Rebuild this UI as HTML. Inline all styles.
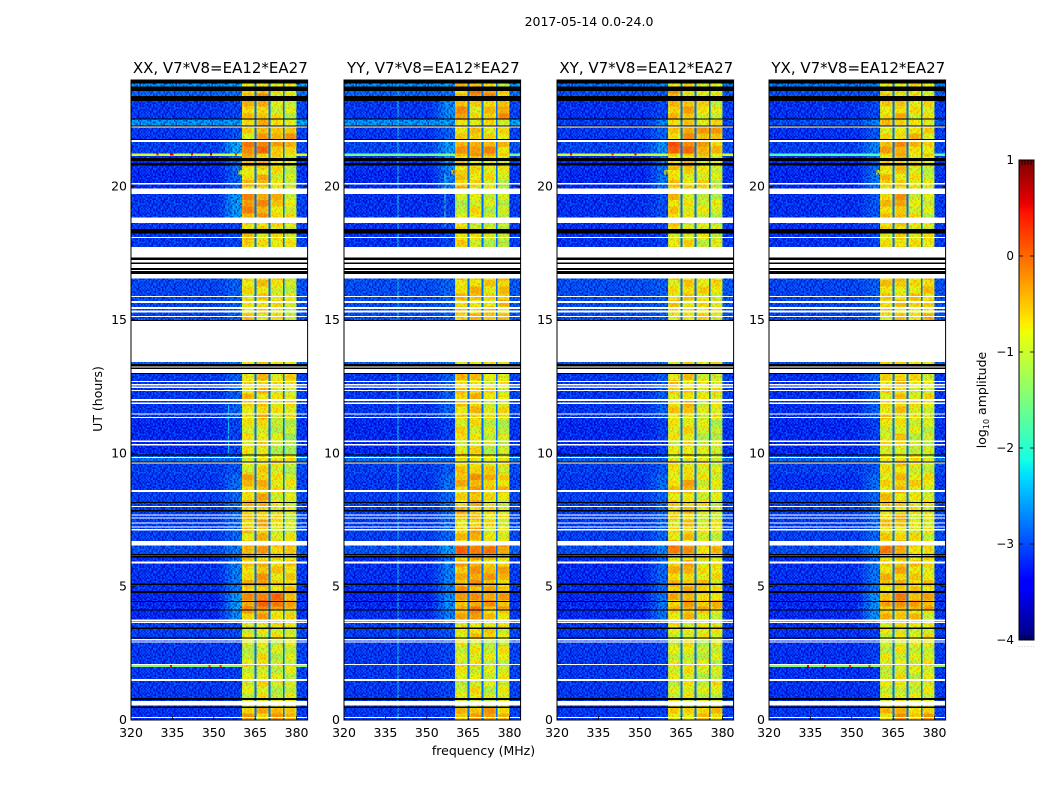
<!DOCTYPE html>
<html>
<head>
<meta charset="utf-8">
<title>2017-05-14 spectrogram</title>
<style>
html,body{margin:0;padding:0;background:#fff;}
svg{display:block;}
text{font-family:"DejaVu Sans","Liberation Sans",sans-serif;fill:#000;}
</style>
</head>
<body>
<svg id="figure" xmlns="http://www.w3.org/2000/svg" width="1050" height="800" viewBox="0 0 1050 800">
  <rect x="0" y="0" width="1050" height="800" fill="#fff"/>
  <defs id="defs"></defs>
  <text x="589" y="26" font-size="12.5" text-anchor="middle">2017-05-14 0.0-24.0</text>
  <text x="483.500" y="755" font-size="12.5" text-anchor="middle">frequency (MHz)</text>
  <text x="0" y="0" font-size="12.5" text-anchor="middle" transform="translate(102,399) rotate(-90)">UT (hours)</text>
  <text x="0" y="0" font-size="12.5" text-anchor="middle" transform="translate(986,400) rotate(-90)">log<tspan font-size="8" dy="3">10</tspan><tspan dy="-3"> amplitude</tspan></text>
  <g id="panels"></g>
  <g id="colorbar"></g>
</svg>
<script>
const panelNames = ['XX', 'YY', 'XY', 'YX'];
const panelTitleSuffix = ', V7*V8=EA12*EA27';
const freqTicks = [320, 335, 350, 365, 380];
const timeTicks = [0, 5, 10, 15, 20];
const cbarTicks = [-4, -3, -2, -1, 0, 1];
const cbarMinorTicks = [0, 0.2, 0.4, 0.6, 0.8, 1];

/* Start hour of each observed time band */
const timeStarts = [0, 0.5, 1.99, 2.06, 3.0, 3.7, 4.1, 4.8, 5.9, 6.1, 6.55, 8.6, 9.2, 9.7, 9.9, 11.3, 13.0, 15.0, 17.74, 18.63, 19.94, 20.45, 20.62, 21.15, 21.24, 21.76, 22.25, 22.55, 23.22, 23.58];

/* log10 amplitude per time band: [background, near-band glow, band1, band2, band3, band4] */
const levelsXX = [
[-3.05,-3.0,-.45,-.45,-.35,-.35],[-3.0,-2.95,-.95,-.8,-1.05,-.95],[-1.5,-1.5,-.7,-.6,-.9,-.9],[-3.0,-2.95,-1.0,-.85,-1.05,-1.0],
[-2.95,-2.85,-.95,-.85,-.85,-.85],[-3.1,-2.4,-.4,-.35,-.65,-.85],[-3.1,-2.3,-.25,-.05,-.1,-.3],[-3.05,-2.5,-.55,-.4,-.65,-.65],
[-3.05,-2.6,-.7,-.6,-.8,-.8],[-2.85,-2.5,-.3,-.35,-.55,-.35],[-2.95,-2.65,-.6,-.5,-.85,-.95],[-3.0,-2.6,-.5,-.4,-.8,-.9],
[-2.95,-2.8,-.85,-.7,-.9,-1.1],[-2.6,-2.6,-.85,-.8,-.8,-.9],[-3.1,-2.9,-.85,-.75,-1.1,-1.2],[-3.0,-2.7,-.65,-.55,-.85,-.8],
[-2.7,-2.5,-.7,-.65,-.8,-.85],[-2.9,-2.7,-.75,-.65,-.8,-1.0],[-3.0,-2.9,-.7,-.7,-.8,-.9],[-3.0,-2.3,-.2,-.3,-.6,-.85],
[-3.1,-2.7,-.6,-.55,-.8,-1.05],[-3.1,-2.7,-.7,-.7,-.8,-1.05],[-3.05,-2.6,-.55,-.45,-.75,-1.0],[-1.0,-1.0,-.5,-.4,-.7,-.7],
[-2.95,-2.2,.0,-.05,-.45,-.45],[-3.0,-2.8,-.7,-.35,-.35,-.4],[-2.35,-2.3,-.6,-.55,-.8,-.9],[-3.0,-2.9,-.55,-.45,-.9,-1.0],
[-2.7,-2.6,-.4,-.35,-.8,-.85],[-2.4,-2.3,-.85,-.8,-.8,-.95]];
const levelsYY = [
[-3.0,-2.95,-.5,-.45,-.4,-.45],[-3.0,-2.9,-.95,-.85,-1.0,-.9],[-2.9,-2.8,-.75,-.7,-.9,-.9],[-3.0,-2.9,-.9,-.85,-1.0,-.9],
[-2.95,-2.8,-.85,-.65,-.75,-.85],[-3.05,-2.5,-.45,-.35,-.5,-.7],[-3.1,-2.4,-.3,-.2,-.3,-.4],[-3.05,-2.5,-.35,-.3,-.4,-.5],
[-3.05,-2.6,-.6,-.5,-.6,-.7],[-2.8,-2.3,.05,.0,-.2,-.15],[-2.95,-2.65,-.6,-.5,-.8,-.9],[-3.0,-2.6,-.45,-.35,-.45,-.6],
[-2.95,-2.75,-.6,-.55,-.75,-.85],[-2.6,-2.6,-.8,-.8,-.8,-.85],[-3.1,-2.95,-.8,-.8,-1.05,-1.1],[-3.0,-2.7,-.6,-.55,-.85,-.85],
[-2.65,-2.5,-.7,-.7,-.8,-.85],[-2.85,-2.7,-.6,-.6,-.65,-.55],[-3.05,-2.9,-.7,-.9,-1.05,-1.1],[-3.05,-2.9,-1.05,-.85,-1.05,-1.1],
[-3.1,-2.5,-.5,-.75,-.85,-1.05],[-3.1,-2.6,-.6,-.8,-.85,-1.05],[-3.0,-2.4,-.6,-.7,-.7,-.9],[-1.6,-1.4,-.4,-.35,-.5,-.6],
[-2.9,-2.3,-.3,-.2,-.3,-.55],[-3.0,-2.7,-.7,-.7,-.65,-.75],[-2.35,-2.3,-.55,-.75,-.8,-.9],[-3.0,-2.4,-.35,-.7,-.55,-.3],
[-2.7,-2.6,-.5,-.1,-.25,-.75],[-2.4,-2.3,-.5,-.4,-.5,-1.0]];
const levelsXY = [
[-3.0,-2.95,-.65,-.65,-.6,-.6],[-3.0,-2.95,-.95,-.85,-1.05,-.95],[-2.95,-2.9,-.85,-.8,-.95,-.95],[-3.0,-2.95,-1.0,-.9,-1.05,-1.0],
[-3.0,-2.9,-.9,-.85,-.85,-.9],[-3.1,-2.6,-.65,-.55,-.75,-.9],[-3.1,-2.6,-.45,-.35,-.5,-.6],[-3.1,-2.7,-.55,-.5,-.7,-.75],
[-3.05,-2.7,-.7,-.6,-.8,-.85],[-2.85,-2.5,-.15,-.2,-.65,-.6],[-2.95,-2.7,-.7,-.6,-.9,-.95],[-3.0,-2.65,-.65,-.5,-.85,-.9],
[-2.95,-2.8,-.85,-.7,-.9,-1.05],[-2.7,-2.7,-.9,-.85,-.85,-.9],[-3.1,-2.95,-.85,-.75,-1.05,-1.1],[-3.0,-2.75,-.7,-.6,-.9,-.85],
[-2.75,-2.6,-.75,-.7,-.85,-.85],[-2.85,-2.75,-.7,-.65,-.75,-.85],[-3.05,-2.95,-.75,-.8,-.95,-1.0],[-3.05,-2.85,-.55,-.85,-.95,-1.05],
[-3.1,-2.6,-.6,-.7,-.8,-1.0],[-3.1,-2.7,-.65,-.7,-.8,-1.0],[-3.05,-2.6,-.6,-.6,-.75,-.95],[-1.0,-1.0,-.4,-.4,-.6,-.7],
[-2.9,-2.4,.05,.05,-.35,-.6],[-3.0,-2.7,-.55,-.3,-.4,-.3],[-2.95,-2.5,-.5,-.65,-.8,-.85],[-3.05,-2.9,-.55,-.45,-.8,-.9],
[-2.85,-2.8,-.35,-.75,-.8,-.85],[-2.6,-2.5,-.75,-.8,-.8,-.95]];
const levelsYX = [
[-3.0,-2.95,-.55,-.3,-.5,-.45],[-3.05,-3.0,-.95,-.85,-1.0,-.9],[-1.5,-1.5,-.75,-.7,-.9,-.9],[-3.05,-2.95,-1.0,-.85,-1.0,-.9],
[-3.05,-2.95,-.9,-.85,-.85,-.85],[-3.1,-2.4,-.5,-.45,-.65,-.85],[-3.1,-2.4,-.45,-.25,-.3,-.4],[-3.05,-2.6,-.6,-.45,-.65,-.7],
[-3.05,-2.7,-.65,-.6,-.8,-.85],[-2.85,-2.4,-.15,-.25,-.55,-.55],[-2.95,-2.7,-.65,-.6,-.85,-.9],[-3.05,-2.65,-.65,-.55,-.75,-.85],
[-2.95,-2.8,-.8,-.65,-.85,-1.0],[-2.65,-2.6,-.85,-.8,-.85,-.85],[-3.1,-2.95,-.85,-.75,-1.0,-1.1],[-3.05,-2.75,-.7,-.6,-.85,-.85],
[-2.8,-2.55,-.75,-.7,-.8,-.85],[-2.9,-2.75,-.65,-.65,-.7,-.6],[-3.05,-2.9,-.7,-.7,-.85,-.9],[-3.05,-2.8,-.6,-.4,-.85,-1.0],
[-3.1,-2.6,-.65,-.6,-.8,-1.0],[-3.1,-2.7,-.7,-.7,-.8,-1.0],[-3.05,-2.65,-.6,-.55,-.8,-.95],[-1.8,-1.8,-.5,-.45,-.7,-.75],
[-2.95,-2.5,-.4,-.3,-.5,-.65],[-3.05,-2.8,-.75,-.6,-.6,-.7],[-2.85,-2.5,-.65,-.7,-.8,-.85],[-3.05,-2.9,-.6,-.55,-.8,-.8],
[-2.85,-2.8,-.7,-.75,-.75,-.85],[-2.55,-2.5,-.8,-.8,-.8,-.95]];
const panelLevels = [levelsXX, levelsYY, levelsXY, levelsYX];

/* Frequency channels (MHz); each channel reads one column of the band levels */
const channelEdges = [320, 352, 354, 356.5, 360.3, 361.0, 363.9, 364.8, 365.5, 366.2, 369.1, 369.8, 370.5, 371.2, 374.3, 375, 375.7, 376.4, 379.2, 379.9, 384];
const channelColumn = [0, 1, 1, 1, 2, 2, 2, -1, 3, 3, 3, -1, 4, 4, 4, -1, 5, 5, 5, 0];
const channelOffset = [0, 0, 0, 0, -0.15, 0, -0.15, 0, -0.15, 0, -0.12, 0, -0.15, 0, -0.12, 0, -0.15, 0, -0.15, 0.08];
const channelGlowMix = [0, 0.2, 0.55, 1, 0, 0, 0, 0, 0, 0, 0, 0, 0, 0, 0, 0, 0, 0, 0, 0];
const notchLevel = -2.85;
const backgroundBias = -0.15;

/* Slow amplitude ripple inside the bands, stepped every rippleStepHours */
const rippleOffsets = [0.14, -0.1, 0.2, -0.06, -0.18, 0.1, 0.24, -0.14, 0.05, -0.2, 0.16, -0.05];
const rippleStepHours = 0.25;

/* Flagged time ranges in hours */
const whiteFlags = [[0.07,0.12],[0.55,0.72],[1.46,1.53],[2.06,2.10],[2.90,2.94],[2.99,3.03],[3.64,3.69],[3.72,3.76],[5.86,5.94],[6.55,6.71],[7.10,7.16],[7.23,7.26],[7.39,7.41],[7.55,7.59],[7.66,7.71],[7.99,8.03],[8.55,8.63],[9.61,9.66],[9.84,9.87],[10.29,10.35],[10.43,10.49],[11.33,11.36],[11.46,11.50],[11.85,11.91],[11.96,12.03],[12.33,12.38],[12.45,12.50],[12.54,12.60],[12.68,12.71],[13.02,13.16],[13.21,13.25],[13.43,14.97],[15.12,15.15],[15.29,15.35],[15.42,15.48],[15.63,15.71],[15.86,15.90],[16.55,16.73],[16.83,17.74],[18.09,18.12],[18.63,18.84],[19.73,19.94],[20.09,20.13],[21.68,21.76],[22.21,22.25]];
const blackFlags = [[23.87,24],[23.58,23.75],[23.22,23.40],[22.53,22.56],[22.25,22.30],[21.76,21.79],[20.97,21.08],[20.80,20.88],[18.25,18.41],[17.25,17.35],[17.10,17.15],[16.88,16.95],[16.73,16.83],[14.97,15.0],[13.25,13.35],[13.16,13.21],[13.0,13.02],[9.91,9.95],[9.68,9.70],[8.14,8.18],[7.81,7.88],[6.19,6.23],[6.10,6.15],[5.07,5.11],[4.77,4.84],[4.43,4.46],[4.10,4.14],[3.42,3.46],[3.06,3.10],[0.75,0.83],[0.45,0.50]];

/* Narrow interference lines */
const rfiPanel = [1, 1, 0, 3];
const rfiFreq = [339.4, 356.5, 355.2, 339.4];
const rfiStart = [0, 18.5, 9.9, 22.5];
const rfiEnd = [24, 20.5, 11.8, 23.0];
const rfiLevel = [-2.0, -1.7, -2.2, -2.6];

/* Hot spots along the thin interference rows */
const hotPanel = [0, 0, 0, 0, 0, 0, 0, 0, 0, 2, 2, 2, 3, 3, 3, 3];
const hotHour = [21.2, 21.2, 21.2, 21.2, 21.2, 21.2, 2.03, 2.03, 2.03, 21.2, 21.2, 21.2, 2.03, 2.03, 2.03, 2.03];
const hotFreq = [329.3, 334.1, 334.7, 341.7, 348.6, 357.6, 334.1, 348, 352, 324.7, 339.8, 348, 333.7, 340, 349, 356];
const hotLevel = [0.5, 0.6, 0.6, 0.4, 0.6, 0.4, 0.5, 0.3, 0.4, 0.4, 0.4, 0.6, 0.6, 0.2, 0.4, 0.3];

/* Yellow block that overhangs the band edge near 20.5 h (one entry per panel) */
const blockFreqLo = [358.8, 358.8, 358.8, 358.8];
const blockFreqHi = [370, 364.8, 364.8, 364.8];
const blockHourLo = [20.45, 20.45, 20.45, 20.45];
const blockHourHi = [20.62, 20.62, 20.62, 20.62];
const blockLevel = [-0.8, -0.6, -0.75, -0.8];

/* Speckle texture digits (0 = low, 9 = high), applied as a repeating tile */
const speckleRows = [
'382915746038192746501837',
'604172938416027385914260',
'159836204758391620475138',
'741205869302748195360927',
'296483017564920381746052',
'830517492680315974208163',
'475029168347106258397041',
'918364250791483602519786',
'062791543806275149368215',
'537140896225908317640493',
'184906372519634082751906',
'629358041773150964282375'
];

/* Axes geometry */
const panelLefts = [131, 344, 557, 769];
const axesWidth = 176.6;
const axesTop = 80;
const axesBottom = 720;
const freqMin = 320, freqMax = 384, timeMin = 0, timeMax = 24;

function xScale(freq, left) { return left + (freq - freqMin) / (freqMax - freqMin) * axesWidth; }
function yScale(hour) { return axesBottom - (hour - timeMin) / (timeMax - timeMin) * (axesBottom - axesTop); }

const NS = 'http://www.w3.org/2000/svg';
function svgEl(tag, attrs, parent) {
  const e = document.createElementNS(NS, tag);
  for (const k in attrs) e.setAttribute(k, attrs[k]);
  if (parent) parent.appendChild(e);
  return e;
}
function ramp(points, f) {
  for (let i = 1; i < points.length; i++) {
    if (f <= points[i][0]) {
      const a = points[i - 1], b = points[i];
      return a[1] + (b[1] - a[1]) * (f - a[0]) / (b[0] - a[0]);
    }
  }
  return points[points.length - 1][1];
}
const jetR = [[0,0],[.35,0],[.66,1],[.89,1],[1,.5]];
const jetG = [[0,0],[.125,0],[.375,1],[.64,1],[.91,0],[1,0]];
const jetB = [[0,.5],[.11,1],[.34,1],[.65,0],[1,0]];
function jet(level) {
  const f = Math.min(1, Math.max(0, (level + 4) / 5));
  const c = ch => Math.round(255 * ramp(ch, f));
  return 'rgb(' + c(jetR) + ',' + c(jetG) + ',' + c(jetB) + ')';
}

/* Speckle patterns */
const defs = document.getElementById('defs');
function makeSpeckle(id, lowColor, highColor, lowStrength, highStrength) {
  const cw = 1.5, ch = 1.6;
  const pat = svgEl('pattern', {id: id, patternUnits: 'userSpaceOnUse', width: cw * speckleRows[0].length, height: ch * speckleRows.length}, defs);
  speckleRows.forEach((row, r) => {
    for (let c = 0; c < row.length; c++) {
      const d = +row[c];
      const high = d >= 5;
      svgEl('rect', {x: c * cw, y: r * ch, width: cw, height: ch, fill: high ? highColor : lowColor,
        'fill-opacity': (high ? (d - 4) * highStrength : (5 - d) * lowStrength).toFixed(3)}, pat);
    }
  });
}
makeSpeckle('speckle-background', '#0000a0', '#0090ff', 0.14, 0.12);
makeSpeckle('speckle-band', '#80ff40', '#ff6000', 0.06, 0.09);

/* Panels */
const panelsRoot = document.getElementById('panels');
panelNames.forEach((name, p) => {
  const left = panelLefts[p];
  const key = name.toLowerCase();
  const g = svgEl('g', {}, panelsRoot);
  
  

  const cells = svgEl('g', {'shape-rendering': 'crispEdges'}, g);
  
  
  const topCells = document.createElementNS(NS, 'g');
  topCells.setAttribute('shape-rendering', 'crispEdges');
  
  

  const levels = panelLevels[p];
  timeStarts.forEach((start, t) => {
    const end = t + 1 < timeStarts.length ? timeStarts[t + 1] : timeMax;
    const row = levels[t];
    const thin = row[0] > -2;
    const bias = thin ? 0 : backgroundBias;
    for (let c = 0; c < channelColumn.length; c++) {
      const col = channelColumn[c];
      const x0 = xScale(channelEdges[c], left), x1 = xScale(channelEdges[c + 1], left);
      if (col >= 2) {
        let h0 = start;
        while (h0 < end - 1e-6) {
          const slice = Math.floor(h0 / rippleStepHours + 1e-6);
          const h1 = Math.min(end, (slice + 1) * rippleStepHours);
          const ripple = rippleOffsets[(slice + col * 3 + p * 5) % rippleOffsets.length];
          const level = row[col] + channelOffset[c] + ripple;
          const cell = svgEl('rect', {x: x0, y: yScale(h1), width: x1 - x0, height: yScale(h0) - yScale(h1), fill: jet(level)}, cells);
          
          
          h0 = h1;
        }
        continue;
      }
      let level;
      if (col < 0) level = notchLevel;
      else if (col === 1) level = row[0] + bias + (row[1] - row[0]) * channelGlowMix[c];
      else level = row[0] + bias + channelOffset[c];
      const parent = (col < 0 || thin) ? topCells : cells;
      const cell = svgEl('rect', {x: x0, y: yScale(end), width: x1 - x0, height: yScale(start) - yScale(end), fill: jet(level)}, parent);
      
      
    }
  });

  const block = svgEl('rect', {x: xScale(blockFreqLo[p], left), y: yScale(blockHourHi[p]), width: xScale(blockFreqHi[p], left) - xScale(blockFreqLo[p], left), height: yScale(blockHourLo[p]) - yScale(blockHourHi[p]), fill: jet(blockLevel[p])}, cells);
  
  

  rfiPanel.forEach((rp, i) => {
    if (rp !== p) return;
    const line = svgEl('rect', {x: xScale(rfiFreq[i], left), y: yScale(rfiEnd[i]), width: 1, height: yScale(rfiStart[i]) - yScale(rfiEnd[i]), fill: jet(rfiLevel[i])}, cells);
    
    
  });

  const bandLeft = xScale(360.3, left), bandRight = xScale(379.9, left);
  const s1 = svgEl('rect', {x: left, y: axesTop, width: bandLeft - left, height: axesBottom - axesTop, fill: 'url(#speckle-background)'}, g);
  
  
  const s2 = svgEl('rect', {x: bandLeft, y: axesTop, width: bandRight - bandLeft, height: axesBottom - axesTop, fill: 'url(#speckle-band)'}, g);
  
  
  const s3 = svgEl('rect', {x: bandRight, y: axesTop, width: left + axesWidth - bandRight, height: axesBottom - axesTop, fill: 'url(#speckle-background)'}, g);
  
  

  g.appendChild(topCells);
  hotPanel.forEach((hp, i) => {
    if (hp !== p) return;
    const spot = svgEl('rect', {x: xScale(hotFreq[i], left), y: yScale(hotHour[i]) - 1, width: 2, height: 2, fill: jet(hotLevel[i])}, topCells);
    
    
  });

  const flags = svgEl('g', {'shape-rendering': 'crispEdges'}, g);
  
  
  [[whiteFlags, '#fff', 'white-flag'], [blackFlags, '#000', 'black-flag']].forEach(set => {
    set[0].forEach(range => {
      const y0 = yScale(range[1]), y1 = yScale(range[0]);
      const fl = svgEl('rect', {x: left, y: y0, width: axesWidth, height: Math.max(1, y1 - y0), fill: set[1]}, flags);
      
      
    });
  });

  const frame = svgEl('rect', {x: left, y: axesTop, width: axesWidth, height: axesBottom - axesTop, fill: 'none', stroke: '#000', 'stroke-width': 1}, g);
  
  

  freqTicks.forEach(f => {
    const x = xScale(f, left);
    const t1 = svgEl('line', {x1: x, x2: x, y1: axesBottom, y2: axesBottom - 4, stroke: '#000', 'stroke-width': 0.8}, g);
    
    
    const t2 = svgEl('line', {x1: x, x2: x, y1: axesTop, y2: axesTop + 4, stroke: '#000', 'stroke-width': 0.8}, g);
    
    
    const lab = svgEl('text', {x: x, y: axesBottom + 17, 'font-size': 12.5, 'text-anchor': 'middle'}, g);
    lab.textContent = f;
    
    
  });
  timeTicks.forEach(h => {
    const y = yScale(h);
    const t1 = svgEl('line', {x1: left, x2: left + 4, y1: y, y2: y, stroke: '#000', 'stroke-width': 0.8}, g);
    
    
    const t2 = svgEl('line', {x1: left + axesWidth, x2: left + axesWidth - 4, y1: y, y2: y, stroke: '#000', 'stroke-width': 0.8}, g);
    
    
    const lab = svgEl('text', {x: left - 4, y: y + 4, 'font-size': 12.5, 'text-anchor': 'end'}, g);
    lab.textContent = h;
    
    
  });

  const title = svgEl('text', {x: left + axesWidth / 2 + 1, y: 73, 'font-size': 15, 'text-anchor': 'middle'}, g);
  title.textContent = name + panelTitleSuffix;
  
  
});

/* Colorbar */
const cbarRoot = document.getElementById('colorbar');
const cbLeft = 1019, cbWidth = 15, cbTop = 160, cbBottom = 640;
function cbarY(v) { return cbBottom - (v + 4) / 5 * (cbBottom - cbTop); }
const cbarSteps = 240;
const cbFill = svgEl('g', {'shape-rendering': 'crispEdges'}, cbarRoot);


for (let i = 0; i < cbarSteps; i++) {
  const v0 = -4 + 5 * i / cbarSteps, v1 = -4 + 5 * (i + 1) / cbarSteps;
  const seg = svgEl('rect', {x: cbLeft, y: cbarY(v1), width: cbWidth, height: cbarY(v0) - cbarY(v1), fill: jet((v0 + v1) / 2)}, cbFill);
  
  
}
const cbFrame = svgEl('rect', {x: cbLeft, y: cbTop, width: cbWidth, height: cbBottom - cbTop, fill: 'none', stroke: '#000', 'stroke-width': 1}, cbarRoot);


cbarTicks.forEach(v => {
  const y = cbarY(v);
  const t1 = svgEl('line', {x1: cbLeft, x2: cbLeft + 4, y1: y, y2: y, stroke: '#000', 'stroke-width': 0.8}, cbarRoot);
  
  
  const t2 = svgEl('line', {x1: cbLeft + cbWidth, x2: cbLeft + cbWidth - 4, y1: y, y2: y, stroke: '#000', 'stroke-width': 0.8}, cbarRoot);
  
  
  const lab = svgEl('text', {x: cbLeft - 5, y: y + 4, 'font-size': 12, 'text-anchor': 'end'}, cbarRoot);
  lab.textContent = v < 0 ? '\u2212' + Math.abs(v) : String(v);
  
  
});
cbarMinorTicks.forEach(m => {
  const x = cbLeft + m * cbWidth;
  const t1 = svgEl('line', {x1: x, x2: x, y1: cbTop, y2: cbTop + 5, stroke: '#000', 'stroke-width': 0.8}, cbarRoot);
  
  
  const t2 = svgEl('line', {x1: x, x2: x, y1: cbBottom, y2: cbBottom - 5, stroke: '#000', 'stroke-width': 0.8}, cbarRoot);
  
  
  const dot = svgEl('text', {x: x, y: cbBottom + 7, 'font-size': 5, 'text-anchor': 'middle', style: 'fill:#555'}, cbarRoot);
  dot.textContent = '.';
  
  
});
</script>
</body>
</html>
